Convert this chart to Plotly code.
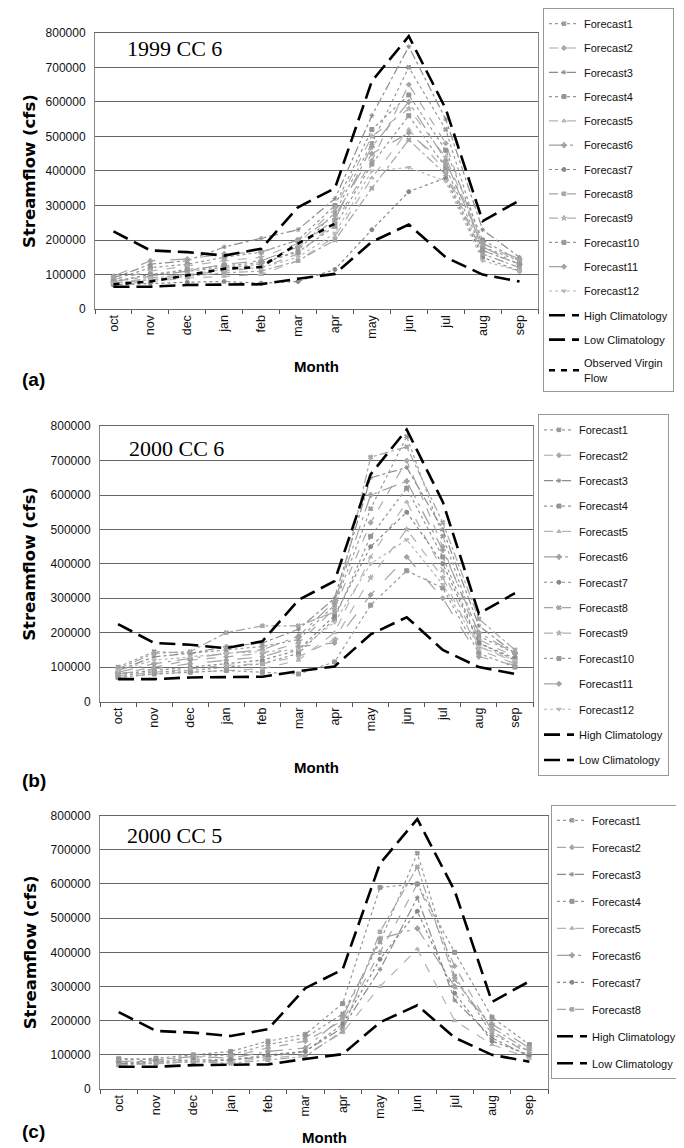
import plotly.graph_objects as go

months = ["oct", "nov", "dec", "jan", "feb", "mar", "apr", "may", "jun", "jul", "aug", "sep"]

high_climatology = [225000, 170000, 165000, 155000, 175000, 295000, 350000, 660000, 790000, 580000, 255000, 315000]
low_climatology = [65000, 65000, 70000, 72000, 72000, 88000, 102000, 195000, 245000, 150000, 100000, 80000]
observed_virgin_flow_1999 = [72000, 80000, 98000, 117000, 122000, 190000, 248000, None, None, None, None, None]

forecasts_1999_cc6 = [
    [80000, 100000, 110000, 120000, 130000, 170000, 280000, 480000, 700000, 520000, 180000, 140000],
    [75000, 90000, 100000, 110000, 120000, 160000, 250000, 430000, 650000, 480000, 170000, 130000],
    [90000, 130000, 140000, 180000, 205000, 230000, 320000, 560000, 760000, 550000, 230000, 150000],
    [85000, 120000, 130000, 150000, 165000, 200000, 300000, 520000, 620000, 460000, 200000, 140000],
    [70000, 80000, 90000, 95000, 100000, 140000, 210000, 380000, 520000, 400000, 160000, 120000],
    [80000, 95000, 110000, 130000, 140000, 180000, 260000, 470000, 600000, 430000, 180000, 130000],
    [70000, 75000, 78000, 80000, 75000, 80000, 115000, 230000, 340000, 380000, 150000, 110000],
    [75000, 85000, 95000, 105000, 110000, 140000, 200000, 350000, 490000, 390000, 160000, 120000],
    [85000, 110000, 125000, 140000, 150000, 190000, 290000, 500000, 580000, 440000, 190000, 140000],
    [80000, 100000, 115000, 125000, 135000, 165000, 240000, 420000, 560000, 410000, 170000, 130000],
    [95000, 140000, 145000, 160000, 165000, 200000, 270000, 450000, 510000, 420000, 190000, 145000],
    [75000, 90000, 100000, 115000, 120000, 150000, 220000, 400000, 410000, 370000, 140000, 110000],
]

forecasts_2000_cc6 = [
    [100000, 145000, 140000, 150000, 160000, 180000, 280000, 560000, 770000, 480000, 190000, 140000],
    [80000, 100000, 120000, 130000, 140000, 170000, 270000, 520000, 700000, 450000, 180000, 130000],
    [90000, 130000, 140000, 160000, 170000, 210000, 300000, 650000, 680000, 500000, 220000, 140000],
    [75000, 85000, 90000, 100000, 110000, 140000, 240000, 480000, 620000, 420000, 170000, 120000],
    [70000, 80000, 85000, 90000, 95000, 120000, 200000, 420000, 580000, 380000, 160000, 115000],
    [85000, 110000, 125000, 140000, 150000, 190000, 290000, 600000, 640000, 440000, 200000, 140000],
    [80000, 90000, 100000, 110000, 120000, 150000, 250000, 450000, 550000, 400000, 170000, 125000],
    [95000, 140000, 145000, 200000, 220000, 220000, 260000, 710000, 740000, 520000, 240000, 150000],
    [75000, 85000, 95000, 105000, 110000, 130000, 180000, 360000, 500000, 360000, 150000, 110000],
    [70000, 80000, 85000, 90000, 85000, 80000, 115000, 280000, 380000, 330000, 140000, 100000],
    [80000, 95000, 110000, 120000, 130000, 160000, 170000, 310000, 420000, 300000, 130000, 105000],
    [90000, 120000, 130000, 140000, 145000, 150000, 230000, 400000, 470000, 340000, 160000, 120000],
]

forecasts_2000_cc5 = [
    [90000, 85000, 95000, 100000, 130000, 150000, 220000, 430000, 690000, 330000, 160000, 110000],
    [80000, 80000, 90000, 95000, 120000, 140000, 200000, 400000, 600000, 360000, 170000, 100000],
    [75000, 75000, 80000, 85000, 95000, 110000, 180000, 350000, 560000, 260000, 150000, 95000],
    [85000, 90000, 100000, 110000, 140000, 160000, 250000, 590000, 600000, 400000, 210000, 130000],
    [70000, 75000, 80000, 80000, 90000, 100000, 165000, 300000, 410000, 200000, 130000, 90000],
    [80000, 85000, 95000, 90000, 110000, 120000, 210000, 440000, 470000, 300000, 190000, 120000],
    [75000, 80000, 85000, 85000, 100000, 110000, 190000, 380000, 520000, 280000, 140000, 100000],
    [70000, 75000, 80000, 75000, 85000, 95000, 170000, 460000, 650000, 320000, 180000, 110000],
]

panel_titles = ["1999 CC 6", "2000 CC 6", "2000 CC 5"]
panel_letters = ["(a)", "(b)", "(c)"]
forecast_names = ["Forecast%d" % (i + 1) for i in range(12)]

# styles
f_colors = ["#9a9a9a", "#a8a8a8", "#8c8c8c", "#959595", "#b4b4b4", "#a0a0a0",
            "#888888", "#a5a5a5", "#b0b0b0", "#999999", "#a3a3a3", "#b8b8b8"]
f_dashes = ["dot", "dash", "dashdot", "dot", "dash", "longdashdot",
            "dot", "dashdot", "dash", "dot", "longdash", "dot"]
f_symbols = ["x", "diamond", "asterisk-open", "square", "triangle-up", "cross",
             "circle", "x", "star", "square", "diamond", "triangle-down"]

# geometry (paper fractions)
W, H = 684, 1148
xdoms = [[87 / W, 530 / W], [92 / W, 525 / W], [92 / W, 540 / W]]
ydoms = [[1 - 294 / H, 1 - 13 / H], [1 - 693 / H, 1 - 413 / H], [1 - 1087 / H, 1 - 809 / H]]
legend_pos = [(535 / W, 1 + 12 / H, 5.3), (530 / W, 1 - 401 / H, 6.4), (543 / W, 1 - 798 / H, 8)]
title_pos = [(0.068, 0.943), (0.062, 0.92), (0.056, 0.928)]
month_y = [352, 760, 1136]
letter_y = [366, 773, 1130]

fig = go.Figure()
panels = [forecasts_1999_cc6, forecasts_2000_cc6, forecasts_2000_cc5]
font_sans = "Liberation Sans, Arial, sans-serif"

for p, fc in enumerate(panels):
    sfx = "" if p == 0 else str(p + 1)
    xa, ya = "x" + sfx, "y" + sfx
    leg = "legend" + sfx
    for i, vals in enumerate(fc):
        fig.add_trace(go.Scatter(
            x=months, y=vals, name=forecast_names[i], mode="lines+markers",
            xaxis=xa, yaxis=ya, legend=leg, legendgroup="p%d_f%d" % (p, i),
            line=dict(color=f_colors[i], width=1.2, dash=f_dashes[i]),
            marker=dict(symbol=f_symbols[i], size=4, color=f_colors[i],
                        line=dict(width=1, color=f_colors[i])),
        ))
    fig.add_trace(go.Scatter(
        x=months, y=high_climatology, name="High Climatology", mode="lines",
        xaxis=xa, yaxis=ya, legend=leg, legendgroup="p%d_high" % p,
        line=dict(color="black", width=2.6, dash="16px,7px"),
    ))
    fig.add_trace(go.Scatter(
        x=months, y=low_climatology, name="Low Climatology", mode="lines",
        xaxis=xa, yaxis=ya, legend=leg, legendgroup="p%d_low" % p,
        line=dict(color="black", width=2.6, dash="16px,7px"),
    ))
    if p == 0:
        fig.add_trace(go.Scatter(
            x=months, y=observed_virgin_flow_1999, name="Observed Virgin<br>Flow", mode="lines",
            xaxis=xa, yaxis=ya, legend=leg, legendgroup="p0_obs",
            line=dict(color="black", width=2.6, dash="6px,6px"),
        ))

    fig.layout["xaxis" + sfx] = dict(
        domain=xdoms[p], anchor=ya, type="category", categoryorder="array",
        categoryarray=months, range=[-0.5, 11.5], tickangle=-90, tickson="boundaries",
        ticks="outside", ticklen=4, tickcolor="#555", showline=True, linecolor="#666",
        linewidth=1, mirror=True, showgrid=False, zeroline=False,
        tickfont=dict(family=font_sans, size=12.5, color="#111"),
    )
    fig.layout["yaxis" + sfx] = dict(
        domain=ydoms[p], anchor=xa, range=[0, 800000], dtick=100000, tickformat="d",
        showgrid=True, gridcolor="#666", gridwidth=1, showline=True, linecolor="#888",
        linewidth=1, mirror=True, zeroline=False, ticks="", ticklabelstandoff=6,
        tickfont=dict(family=font_sans, size=12, color="#111"),
    )
    lx, ly, gap = legend_pos[p]
    fig.layout[leg] = dict(
        x=lx, y=ly, xanchor="left", yanchor="top", orientation="v",
        traceorder="grouped", tracegroupgap=gap, bgcolor="white",
        bordercolor="#999", borderwidth=1, itemwidth=30,
        font=dict(family=font_sans, size=11, color="#111"),
    )
    # panel title inside the plot
    fig.add_annotation(
        x=title_pos[p][0], y=title_pos[p][1], xref=xa + " domain", yref=ya + " domain",
        text=panel_titles[p], showarrow=False, xanchor="left", yanchor="middle",
        font=dict(family="Liberation Serif, Times New Roman, serif", size=22, color="black"),
    )
    # y axis title
    fig.add_annotation(
        x=22 / W, y=(ydoms[p][0] + ydoms[p][1]) / 2, xref="paper", yref="paper",
        text="<b>Streamflow (cfs)</b>", textangle=-90, showarrow=False,
        xanchor="center", yanchor="middle",
        font=dict(family="DejaVu Sans, sans-serif", size=16.5, color="black"),
    )
    # x axis title
    fig.add_annotation(
        x=(xdoms[p][0] + xdoms[p][1]) / 2, y=1 - month_y[p] / H, xref="paper", yref="paper",
        text="<b>Month</b>", showarrow=False, xanchor="center", yanchor="middle",
        font=dict(family=font_sans, size=15, color="black"),
    )
    # panel letter
    fig.add_annotation(
        x=12 / W, y=1 - letter_y[p] / H, xref="paper", yref="paper",
        text="<b>%s</b>" % panel_letters[p], showarrow=False, xanchor="left", yanchor="middle",
        font=dict(family=font_sans, size=19, color="black"),
    )

fig.update_layout(
    width=W, height=H, margin=dict(l=0, r=0, t=0, b=0),
    paper_bgcolor="white", plot_bgcolor="white", showlegend=True,
)

fig.write_html("out.html")
